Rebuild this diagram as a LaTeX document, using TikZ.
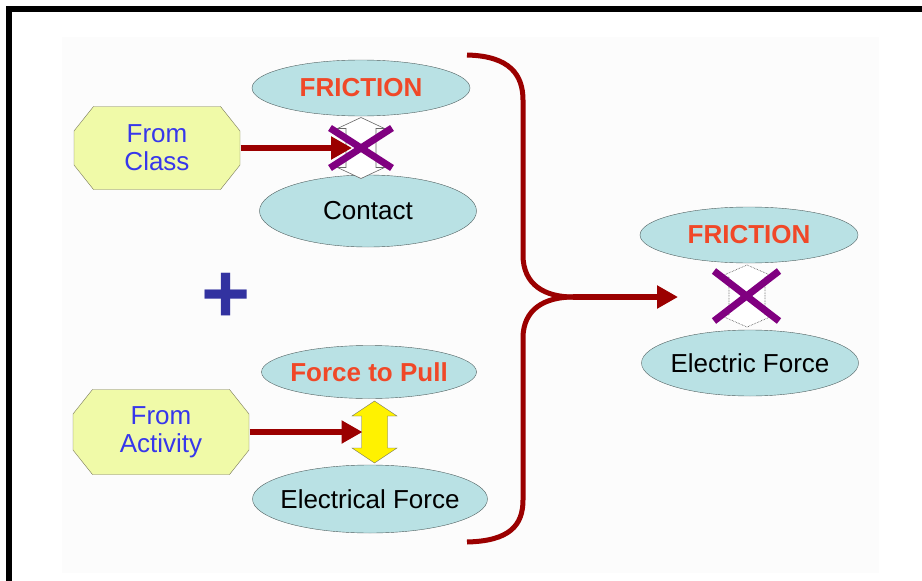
\documentclass[tikz,border=0pt]{standalone}
\usepackage{fontspec}
\setmainfont{Liberation Sans}
\usepackage{tikz}
\usetikzlibrary{arrows.meta,shapes.geometric}

\definecolor{brick}{RGB}{155,0,0}
\definecolor{purp}{RGB}{128,0,128}
\definecolor{ovalfill}{RGB}{185,225,228}
\definecolor{ovalline}{RGB}{80,95,95}
\definecolor{srcfill}{RGB}{240,250,168}
\definecolor{srcline}{RGB}{120,120,90}
\definecolor{srcblue}{RGB}{55,55,235}
\definecolor{redtxt}{RGB}{240,72,40}
\definecolor{plusblue}{RGB}{50,50,160}
\newcommand{\tx}[1]{\makebox[0pt]{#1}}
% vertical block arrow: style, centre, half length, half head, half shaft, head length
\newcommand{\updown}[6]{\draw[#1] ([shift={(0,-#3)}]#2) -- ([shift={(#4,-#3+#6)}]#2)
  -- ([shift={(#5,-#3+#6)}]#2) -- ([shift={(#5,#3-#6)}]#2) -- ([shift={(#4,#3-#6)}]#2)
  -- ([shift={(0,#3)}]#2) -- ([shift={(-#4,#3-#6)}]#2) -- ([shift={(-#5,#3-#6)}]#2)
  -- ([shift={(-#5,-#3+#6)}]#2) -- ([shift={(-#4,-#3+#6)}]#2) -- cycle;}

\begin{document}
\begin{tikzpicture}[x=1pt,y=-1pt,
  every node/.style={font=\fontsize{26}{28}\selectfont},
  oval/.style={ellipse,draw=ovalline,fill=ovalfill,inner sep=0pt},
  src/.style={rectangle,text=srcblue,align=center,inner sep=0pt,
    path picture={\filldraw[draw=srcline,fill=srcfill]
      ([xshift=20pt,yshift=-0.5pt]path picture bounding box.north west)
      -- ([xshift=-20pt,yshift=-0.5pt]path picture bounding box.north east)
      -- ([xshift=-0.5pt,yshift=-25pt]path picture bounding box.north east)
      -- ([xshift=-0.5pt,yshift=25pt]path picture bounding box.south east)
      -- ([xshift=-20pt,yshift=0.5pt]path picture bounding box.south east)
      -- ([xshift=20pt,yshift=0.5pt]path picture bounding box.south west)
      -- ([xshift=0.5pt,yshift=25pt]path picture bounding box.south west)
      -- ([xshift=0.5pt,yshift=-25pt]path picture bounding box.north west) -- cycle;}},
  ghost/.style={draw=gray!80!black,fill=white,semithick},
  ghostdot/.style={draw=gray!50!black,fill=white,densely dotted,semithick},
  block/.style={draw=gray!80!black,fill=yellow,thin},
  arr/.style={-{Triangle[length=21pt,width=22pt]},brick,line width=6pt},
  cross/.style={purp,line width=7pt},
  brace/.style={brick,line width=5pt}]
\useasboundingbox (0,0) rectangle (922,581);
\fill[black!1] (62,37) rectangle (879,573);
\fill[black] (6,6) rectangle (922,12);
\fill[black] (6,6) rectangle (12,581);

% left part
\node[src,minimum width=167pt,minimum height=84pt] (cls) at (157,148) {From\\Class};
\node[src,minimum width=177pt,minimum height=86pt] (act) at (161,432) {From\\Activity};
\node[oval,minimum width=218pt,minimum height=56pt] (fr1) at (361,88) {\tx{\bfseries\color{redtxt}FRICTION}};
\node[oval,minimum width=217pt,minimum height=72pt] (con) at (368,211) {\tx{Contact}};
\node[oval,minimum width=215pt,minimum height=53pt] (fp)  at (369,372) {\tx{\bfseries\color{redtxt}Force to Pull}};
\node[oval,minimum width=235pt,minimum height=68pt] (ef1) at (370,499) {\tx{Electrical Force}};
\coordinate (dl1) at (361,148);
\coordinate (ya) at (374.5,432);
\updown{ghost}{dl1}{30.5}{23.5}{15}{11}
\updown{block}{ya}{31}{22.5}{13}{15}
\node[text=plusblue,font=\fontsize{84}{84}\bfseries] (plus) at (226,298) {+};

% right part
\node[oval,minimum width=218pt,minimum height=56pt] (fr2) at (749,235) {\tx{\bfseries\color{redtxt}FRICTION}};
\node[oval,minimum width=217pt,minimum height=66pt] (ef2) at (750,363) {\tx{Electric Force}};
\coordinate (dr) at (747,296);
\updown{ghostdot}{dr}{31}{27.5}{18}{12}

\draw[cross] ([shift={(-31,-20)}]dl1) -- ([shift={(31,20)}]dl1);
\draw[cross] ([shift={(-31,20)}]dl1) -- ([shift={(31,-20)}]dl1);
\draw[cross] ([shift={(-33,-25)}]dr) -- ([shift={(32,25)}]dr);
\draw[cross] ([shift={(-33,25)}]dr) -- ([shift={(32,-25)}]dr);

\draw[arr] (cls.east) -- ([xshift=-9pt]dl1);
\draw[arr] (act.east) -- ([xshift=-12pt]ya);

% brace
\coordinate (join) at (573,297);
\coordinate (hit) at (678,297);
\draw[brace] (467,55) .. controls (510,56) and (523,75) .. (523,100) -- (523,255)
  .. controls (523,285) and (545,297) .. (join);
\draw[brace] (467,542) .. controls (510,541) and (523,525) .. (523,500) -- (523,338)
  .. controls (523,309) and (545,297) .. (join);
\draw[arr] (join) -- (hit);
\end{tikzpicture}
\end{document}
